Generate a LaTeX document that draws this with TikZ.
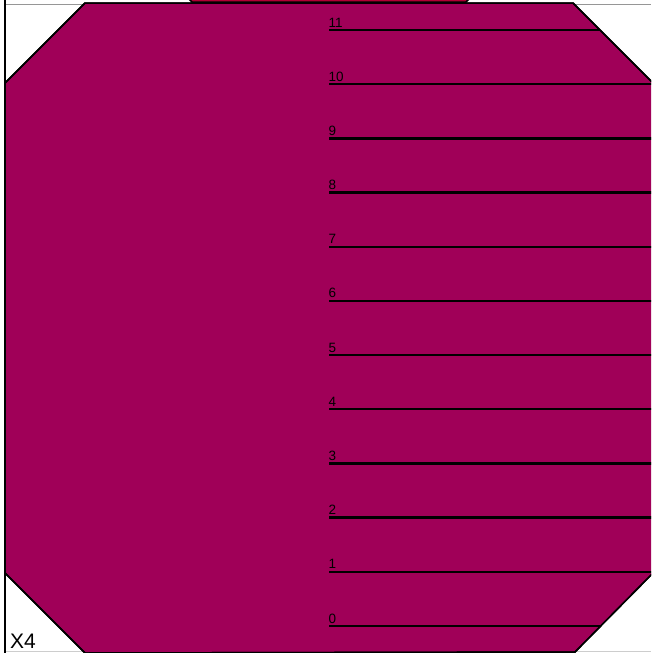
\documentclass[tikz,border=0pt]{standalone}
\usepackage{fontspec}
\setmainfont{Liberation Sans}
\definecolor{octfill}{RGB}{160,0,88}
\definecolor{redfill}{RGB}{176,0,52}
\definecolor{framegray}{RGB}{150,150,150}
\definecolor{framelight}{RGB}{205,205,205}
\tikzset{
  octedge/.style={draw=black, line width=1.5pt, line join=miter},
  pinline/.style={draw=black, line width=2.4pt},
  pinlabel/.style={anchor=base west, inner sep=0pt, font=\fontsize{13.5}{13.5}\selectfont},
  partlabel/.style={anchor=base west, inner sep=0pt, font=\fontsize{21}{21}\selectfont}
}
\begin{document}
\begin{tikzpicture}[x=1pt,y=-1pt]
\useasboundingbox (0,0) rectangle (651,653);
\fill[white] (0,0) rectangle (651,653);
\begin{scope}
\clip (0,0) rectangle (651,653);
% frame
\draw[framegray, line width=1pt] (5,4) -- (651,4);
\draw[framelight, line width=1pt] (5,651) -- (651,651);
\draw[black, line width=1.5pt] (5,0) -- (5,653);
% neighbouring part above
\path[octedge, fill=redfill] (184,-6) -- (192,2) -- (466,2) -- (474,-6) -- cycle;
% main octagon
\path[octedge, fill=octfill] (85,3) -- (573,3) -- (655,85) -- (655,571) -- (575,652) -- (85,653) -- (5,573) -- (5,83) -- cycle;
\begin{scope}
\clip (85,3) -- (573,3) -- (655,85) -- (655,571) -- (575,652) -- (85,653) -- (5,573) -- (5,83) -- cycle;
\foreach \k in {0,...,11} {
  \coordinate (p\k) at (329,626-54.18*\k);
  \coordinate (q\k) at (660,626-54.18*\k);
  \draw[pinline] (p\k) -- (q\k);
  \node[pinlabel] (l\k) at (328.5,623-54.18*\k) {\k};
}
\end{scope}
\draw[octedge] (85,3) -- (573,3) -- (655,85) -- (655,571) -- (575,652) -- (85,653) -- (5,573) -- (5,83) -- cycle;
\node[partlabel] (x4) at (10,648) {X4};
\end{scope}
\end{tikzpicture}
\end{document}
